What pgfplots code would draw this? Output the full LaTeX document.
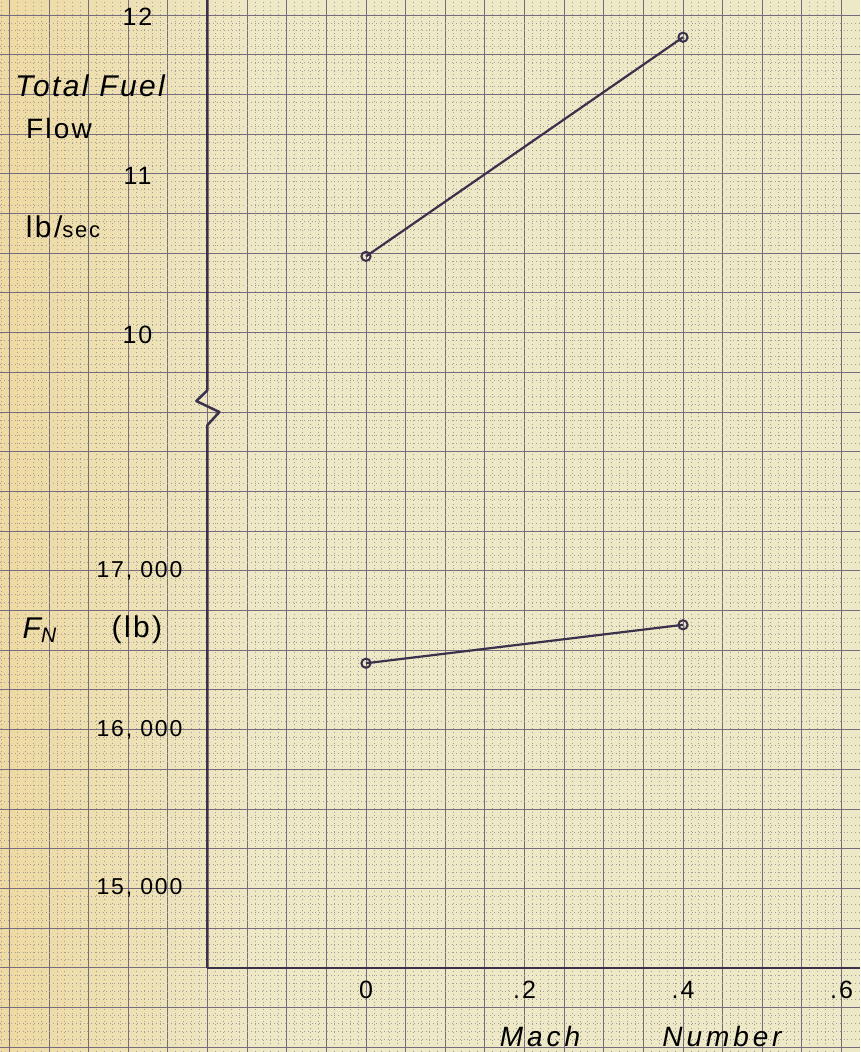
\documentclass[border=0pt]{standalone}
\usepackage{fontspec}
\setmainfont{Liberation Sans}
\newfontfamily\hand[LetterSpace=8]{Liberation Sans}
\newfontfamily\handwide[LetterSpace=14]{Liberation Sans}
\usepackage{pgfplots}
\usepackage{pgfplotstable}
\pgfplotsset{compat=1.18}

\definecolor{paper}{HTML}{EDE8C6}
\definecolor{paperwarm}{HTML}{EEDAA2}
\definecolor{ink}{HTML}{3A324C}
\definecolor{gridmaj}{HTML}{766C7E}
\definecolor{gridmin}{HTML}{A69D9B}

% fuel flow (lb/sec) and net thrust (lb) against Mach number
\pgfplotstableread{
mach fuel
0.0  10.48
0.4  11.86
}\fueltab
\pgfplotstableread{
mach thrust
0.0  16418
0.4  16660
}\thrusttab

\begin{document}
\begin{tikzpicture}[font=\hand\color{ink}]
% the sheet of graph paper
\fill[paper] (0,0) rectangle (430pt,526pt);
\shade[left color=paperwarm, right color=paper] (0,0) rectangle (130pt,526pt);

% grid only, same units as the thrust axis
\begin{axis}[
    name=bg, at={(0,0)}, anchor=south west,
    x=396.25pt, y=0.0794pt,
    xmin=-0.4618, xmax=0.6233, ymin=13970, ymax=20594.5,
    xtick distance=0.05, ytick distance=250,
    minor x tick num=4, minor y tick num=4,
    grid=both,
    major grid style={gridmaj, line width=0.45pt},
    minor grid style={gridmin, line width=0.4pt, dash pattern=on 0.5pt off 1.4pt},
    xticklabels={}, yticklabels={},
    major tick length=0pt, minor tick length=0pt,
    axis line style={draw=none},
]
\coordinate (O) at (axis cs:-0.2,14500);
\end{axis}

% lower part: net thrust
\begin{axis}[
    at={(O)}, anchor=south west,
    x=396.25pt, y=0.0794pt,
    xmin=-0.2, xmax=0.6233, ymin=14500, ymax=20594.5,
    axis x line*=bottom, axis y line*=left,
    x axis line style={ink, line width=1.25pt, -},
    y axis line style={draw=none},
    xtick={0,0.2,0.4,0.6}, xticklabels={0,.2,.4,.6},
    ytick={15000,16000,17000}, yticklabels={{15, 000},{16, 000},{17, 000}},
    major tick length=0pt,
    xticklabel style={anchor=center, yshift=-11pt, font=\hand\fontsize{12.5}{14}\selectfont},
    yticklabel style={anchor=center, xshift=-34pt, font=\hand\fontsize{11.5}{13}\selectfont},
    clip=false,
]
\addplot[ink, line width=1.1pt, mark=o, mark size=2.3pt,
    mark options={fill=paper, line width=1pt}] table[x=mach, y=thrust]{\thrusttab};
% ordinate with its break
\draw[ink, line width=1.25pt, line join=round]
    (axis cs:-0.2,20594.5) -- (axis cs:-0.2,18138) -- (axis cs:-0.214,18069)
    -- (axis cs:-0.185,18000) -- (axis cs:-0.2,17918) -- (axis cs:-0.2,14500);
\node[font=\hand\itshape\fontsize{15}{17}\selectfont] at (axis cs:-0.3483,20053) {Total Fuel};
\node[font=\hand\fontsize{14}{16}\selectfont] at (axis cs:-0.3874,19788) {Flow};
\node[font=\hand\fontsize{15}{17}\selectfont] at (axis cs:-0.3823,19165) {lb/{\fontsize{11}{12}\selectfont sec}};
\node[font=\hand\itshape\fontsize{15}{17}\selectfont] at (axis cs:-0.4114,16627) {F\textsubscript{N}};
\node[font=\hand\fontsize{15}{17}\selectfont] at (axis cs:-0.289,16627) {(lb)};
\node[font=\handwide\itshape\fontsize{14}{16}\selectfont] at (axis cs:0.2196,14068) {Mach};
\node[font=\handwide\itshape\fontsize{14}{16}\selectfont] at (axis cs:0.4492,14068) {Number};
\end{axis}

% upper part: total fuel flow
\begin{axis}[
    at={(O)}, anchor=south west,
    x=396.25pt, y=79.4pt,
    xmin=-0.2, xmax=0.6233, ymin=6.0, ymax=12.0945,
    axis line style={draw=none},
    xtick=\empty,
    ytick={10,11,12}, yticklabels={10,11,12},
    major tick length=0pt,
    yticklabel style={anchor=center, xshift=-35pt, yshift=-1pt, font=\hand\fontsize{12.5}{14}\selectfont},
    clip=false,
]
\addplot[ink, line width=1.1pt, mark=o, mark size=2.3pt,
    mark options={fill=paper, line width=1pt}] table[x=mach, y=fuel]{\fueltab};
\end{axis}

\pgfresetboundingbox
\path[use as bounding box] (0,0) rectangle (430pt,526pt);
\end{tikzpicture}
\end{document}
